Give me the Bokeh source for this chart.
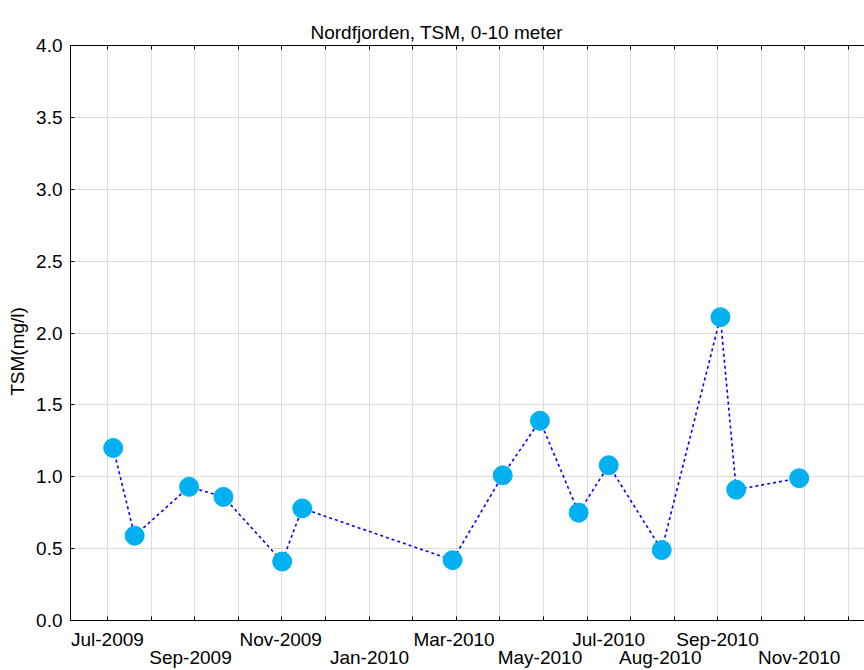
import pandas as pd
from bokeh.plotting import figure
from bokeh.models import FixedTicker, LinearAxis, Range1d, NumeralTickFormatter, ColumnDataSource
from bokeh.embed import file_html
from bokeh.resources import INLINE

# ---- data ----
sample_dates = ["2009-07-22", "2009-08-06", "2009-09-13", "2009-10-07", "2009-11-17",
                "2009-12-01", "2010-03-16", "2010-04-20", "2010-05-16", "2010-06-12",
                "2010-07-03", "2010-08-09", "2010-09-19", "2010-09-30", "2010-11-13"]
tsm = [1.20, 0.59, 0.93, 0.86, 0.41, 0.78, 0.42, 1.01, 1.39, 0.75, 1.08, 0.49, 2.11, 0.91, 0.99]

row1_labels = ["Jul-2009", "Nov-2009", "Mar-2010", "Jul-2010", "Sep-2010"]
row1_dates = ["2009-07-18", "2009-11-16", "2010-03-17", "2010-07-03", "2010-09-17"]
row2_labels = ["Sep-2009", "Jan-2010", "May-2010", "Aug-2010", "Nov-2010"]
row2_dates = ["2009-09-14", "2010-01-17", "2010-05-16", "2010-08-08", "2010-11-13"]
y_ticks = [0.0, 0.5, 1.0, 1.5, 2.0, 2.5, 3.0, 3.5, 4.0]

origin = pd.Timestamp("2009-07-01")


def to_days(lst):
    return [int((pd.Timestamp(d) - origin).days) for d in lst]


x = to_days(sample_dates)
src = ColumnDataSource(dict(x=x, y=tsm))

# uniform tick grid (approx. one month apart), starting at first label
tick_start = to_days(["2009-07-18"])[0]
tick_step = 30.44
x_ticks = [tick_start + k * tick_step for k in range(18)]

FONT = "Liberation Sans"

p = figure(width=864, height=670, output_backend="svg", toolbar_location=None,
           x_range=Range1d(-8.8, 545.6), y_range=Range1d(0, 4),
           min_border_left=70, min_border_right=0, min_border_top=45, min_border_bottom=50,
           title="Nordfjorden, TSM, 0-10 meter")
p.outline_line_color = None
p.background_fill_color = "white"
p.border_fill_color = "white"

p.title.text_font = FONT
p.title.text_font_size = "19px"
p.title.text_font_style = "normal"
p.title.text_color = "black"
p.title.align = "left"
p.title.offset = 240
p.title.standoff = 6

# main bottom axis: first row of date labels, uniform minor ticks as tick marks
row1_days = to_days(row1_dates)
xa = p.xaxis[0]
xa.ticker = FixedTicker(ticks=row1_days, minor_ticks=x_ticks)
xa.major_label_overrides = {d: l for d, l in zip(row1_days, row1_labels)}
xa.major_label_standoff = 8
xa.major_label_text_font = FONT
xa.major_label_text_font_size = "19px"
xa.major_label_text_color = "black"
xa.major_tick_line_color = None
xa.major_tick_in = 0
xa.major_tick_out = 0
xa.minor_tick_in = 4
xa.minor_tick_out = 0
xa.minor_tick_line_color = "black"
xa.axis_line_color = "black"

# top axis (tick marks only)
top = LinearAxis(ticker=FixedTicker(ticks=[], minor_ticks=x_ticks),
                 major_tick_line_color=None, major_tick_in=0, major_tick_out=10,
                 minor_tick_in=4, minor_tick_out=0, minor_tick_line_color="black",
                 axis_line_color="black")
p.add_layout(top, "above")

# second row of date labels
row2_days = to_days(row2_dates)
ax2 = LinearAxis(ticker=FixedTicker(ticks=row2_days),
                 major_label_overrides={d: l for d, l in zip(row2_days, row2_labels)},
                 axis_line_color=None, major_tick_line_color=None,
                 minor_tick_line_color=None, major_tick_in=0, major_tick_out=0,
                 major_label_standoff=-6,
                 major_label_text_font=FONT, major_label_text_font_size="19px",
                 major_label_text_color="black")
p.add_layout(ax2, "below")

# y axis
ya = p.yaxis[0]
ya.ticker = FixedTicker(ticks=y_ticks)
ya.formatter = NumeralTickFormatter(format="0.0")
ya.major_tick_in = 4
ya.major_tick_out = 0
ya.minor_tick_line_color = None
ya.major_label_standoff = 8
ya.major_label_text_font = FONT
ya.major_label_text_font_size = "19px"
ya.major_label_text_color = "black"
ya.axis_label = "TSM(mg/l)" + "\u00a0" * 7
ya.axis_label_text_font = FONT
ya.axis_label_text_font_size = "19px"
ya.axis_label_text_font_style = "normal"
ya.axis_label_text_color = "black"
ya.axis_label_standoff = 5
ya.axis_line_color = "black"

# grids
p.xgrid.ticker = FixedTicker(ticks=x_ticks)
p.ygrid.ticker = FixedTicker(ticks=y_ticks)
p.xgrid.grid_line_color = "#dcdcdc"
p.ygrid.grid_line_color = "#dcdcdc"

p.line("x", "y", source=src, line_color="#0000ff", line_width=1.6, line_dash="3 3")
p.scatter("x", "y", source=src, size=19, fill_color="#00b0f0", line_color="#00b0f0")

open("out.html", "w").write(file_html(p, INLINE))
